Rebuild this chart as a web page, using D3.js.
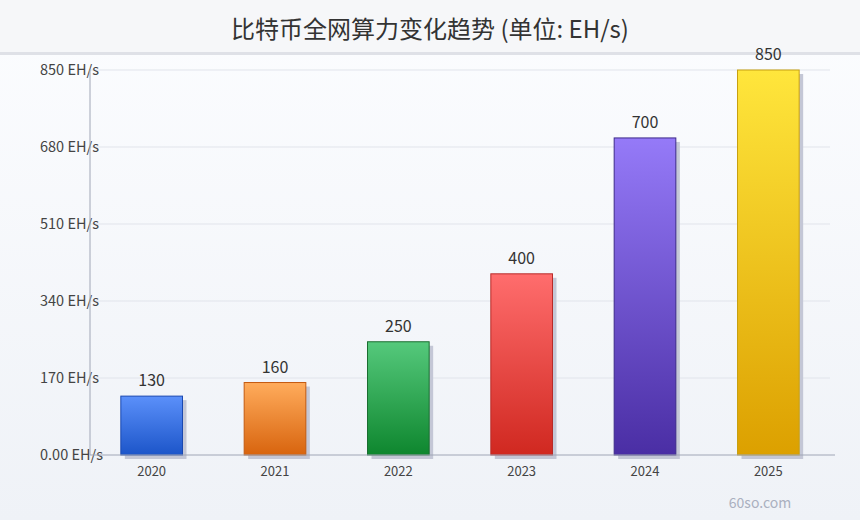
<!DOCTYPE html>
<html>
<head>
<meta charset="utf-8">
<script src="https://cdn.jsdelivr.net/npm/d3@7"></script>
<style>
  html, body { margin: 0; padding: 0; }
  body { width: 860px; height: 520px; overflow: hidden; font-family: "Noto Sans CJK SC", "Noto Sans", sans-serif; }
</style>
</head>
<body>
<svg id="chart" width="860" height="520"></svg>
<script>
const years = ["2020", "2021", "2022", "2023", "2024", "2025"];
const hashrate = [130, 160, 250, 400, 700, 850];
const yTicks = [0, 170, 340, 510, 680, 850];
const yTickLabels = ["0.00 EH/s", "170 EH/s", "340 EH/s", "510 EH/s", "680 EH/s", "850 EH/s"];
// top colour, bottom colour, border
const barColors = [
  ["#5b90fa", "#1c55c9", "#1a48b0"],
  ["#ffac5c", "#d8640e", "#c45a10"],
  ["#55c97c", "#0e862e", "#1a6e30"],
  ["#ff6d6d", "#d02820", "#b82a28"],
  ["#957af8", "#4a2ea4", "#3d2a8a"],
  ["#ffe63c", "#dca000", "#c8a010"]
];

const svg = d3.select("#chart");
const W = 860, H = 520;
const margin = { left: 90, right: 30, top: 70, bottom: 65 };

const defs = svg.append("defs");
const bg = defs.append("linearGradient").attr("id", "bg")
  .attr("x1", 0).attr("y1", 0).attr("x2", 0).attr("y2", 1);
bg.append("stop").attr("offset", "0%").attr("stop-color", "#fcfdff");
bg.append("stop").attr("offset", "100%").attr("stop-color", "#eff2f7");

barColors.forEach((c, i) => {
  const g = defs.append("linearGradient").attr("id", "bar" + i)
    .attr("x1", 0).attr("y1", 0).attr("x2", 0).attr("y2", 1);
  g.append("stop").attr("offset", "0%").attr("stop-color", c[0]);
  g.append("stop").attr("offset", "100%").attr("stop-color", c[1]);
});

svg.append("rect").attr("width", W).attr("height", H).attr("fill", "url(#bg)");
svg.append("rect").attr("width", W).attr("height", 52).attr("fill", "#f6f7f9");
svg.append("rect").attr("y", 52).attr("width", W).attr("height", 3).attr("fill", "#dfe1e7");

svg.append("text")
  .attr("x", W / 2).attr("y", 38)
  .attr("text-anchor", "middle")
  .attr("font-size", 24)
  .attr("fill", "#333")
  .text("比特币全网算力变化趋势 (单位: EH/s)");

const x = d3.scaleBand()
  .domain(years)
  .range([margin.left, W - margin.right])
  .paddingInner(0.5)
  .paddingOuter(0.25);

const y = d3.scaleLinear()
  .domain([0, 850])
  .range([H - margin.bottom, margin.top]);

// grid lines
svg.append("g").selectAll("line")
  .data(yTicks.slice(1))
  .join("line")
  .attr("x1", margin.left).attr("x2", W - margin.right)
  .attr("y1", d => y(d)).attr("y2", d => y(d))
  .attr("stroke", "#e1e4eb").attr("stroke-width", 1);

// y tick labels, left aligned
svg.append("g").selectAll("text")
  .data(yTicks)
  .join("text")
  .attr("x", 40)
  .attr("y", d => y(d) + 5)
  .attr("font-size", 14.5)
  .attr("fill", "#444")
  .text((d, i) => yTickLabels[i]);

// y axis line
svg.append("line")
  .attr("x1", margin.left).attr("x2", margin.left)
  .attr("y1", margin.top).attr("y2", y(0))
  .attr("stroke", "#a0a6b6");

const bars = svg.append("g").selectAll("g")
  .data(hashrate)
  .join("g");

// shadows
bars.append("rect")
  .attr("x", (d, i) => x(years[i]) + 4)
  .attr("y", d => y(d) + 4)
  .attr("width", x.bandwidth())
  .attr("height", d => y(0) - y(d))
  .attr("fill", "#c4c7d6");

bars.append("rect")
  .attr("x", (d, i) => x(years[i]))
  .attr("y", d => y(d))
  .attr("width", x.bandwidth())
  .attr("height", d => y(0) - y(d))
  .attr("fill", (d, i) => `url(#bar${i})`)
  .attr("stroke", (d, i) => barColors[i][2])
  .attr("stroke-width", 1);

bars.append("text")
  .attr("x", (d, i) => x(years[i]) + x.bandwidth() / 2)
  .attr("y", d => y(d) - 10)
  .attr("text-anchor", "middle")
  .attr("font-size", 16)
  .attr("fill", "#333")
  .text(d => d);

// baseline
svg.append("line")
  .attr("x1", margin.left).attr("x2", W - 25)
  .attr("y1", y(0)).attr("y2", y(0))
  .attr("stroke", "#a0a6b6");

svg.append("g").selectAll("text")
  .data(years)
  .join("text")
  .attr("x", d => x(d) + x.bandwidth() / 2)
  .attr("y", y(0) + 21)
  .attr("text-anchor", "middle")
  .attr("font-size", 13)
  .attr("fill", "#444")
  .text(d => d);

svg.append("text")
  .attr("x", 760).attr("y", 508)
  .attr("text-anchor", "middle")
  .attr("font-size", 14)
  .attr("fill", "#aab0bf")
  .text("60so.com");
</script>
</body>
</html>
